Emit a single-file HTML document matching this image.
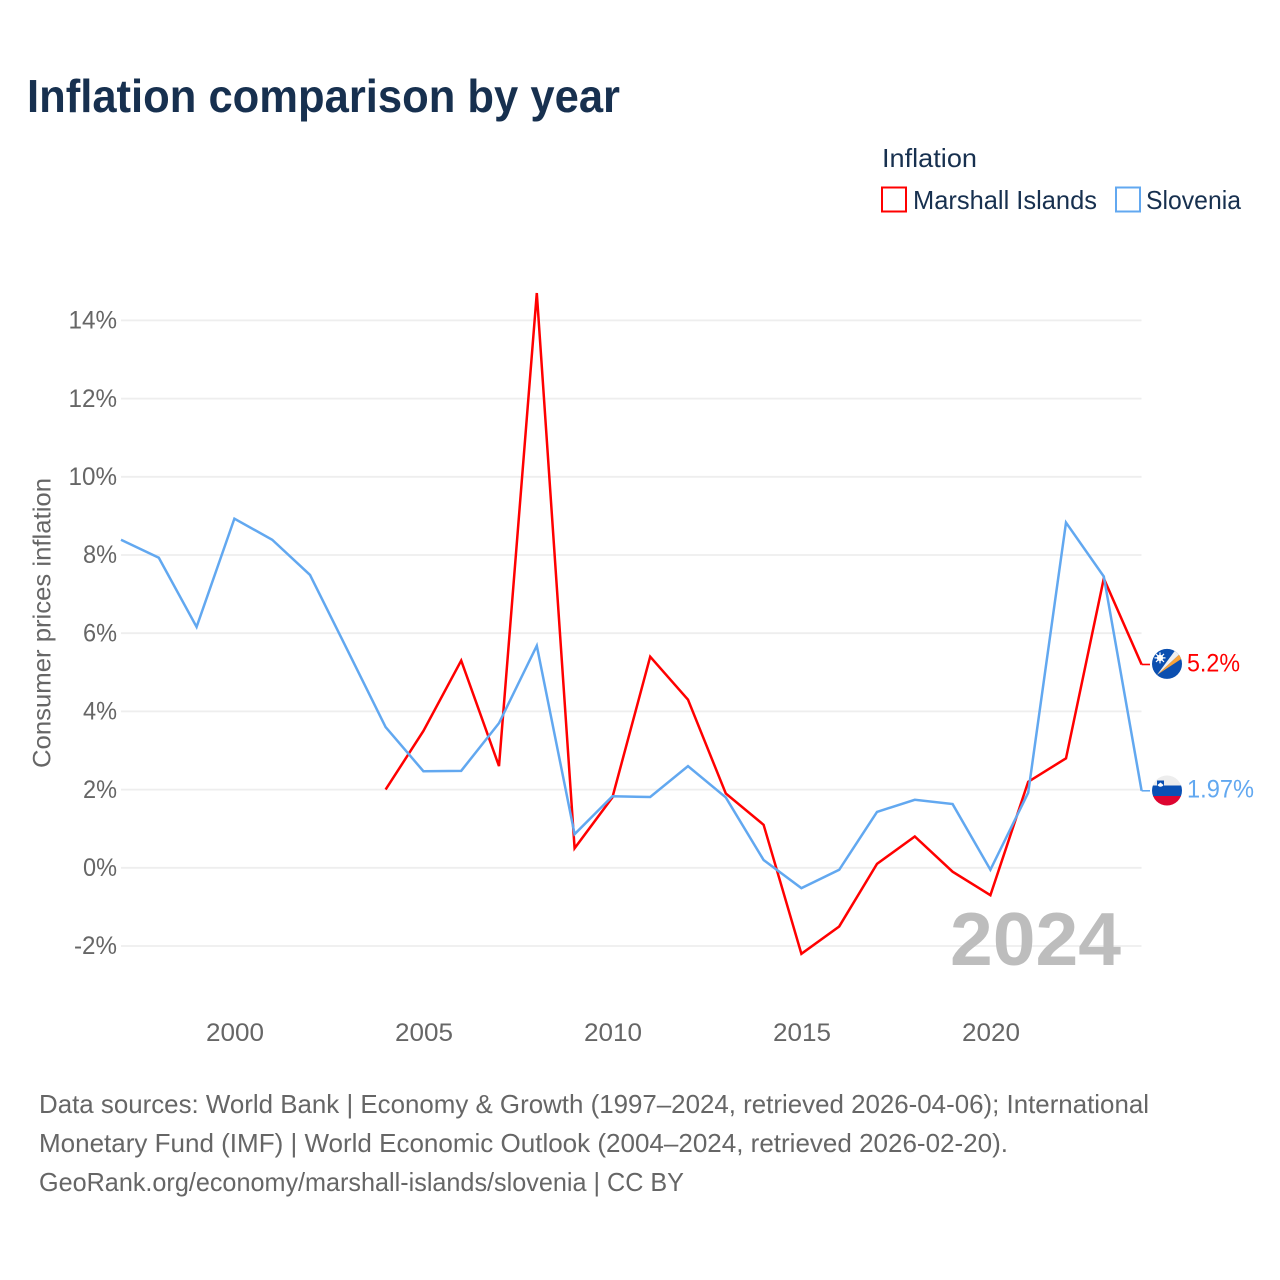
<!DOCTYPE html>
<html lang="en">
<head>
<meta charset="utf-8">
<title>Inflation comparison by year</title>
<style>
html,body{margin:0;padding:0;background:#fff;}
svg{display:block;font-family:"Liberation Sans",sans-serif;}
</style>
</head>
<body>
<svg id="chart" xmlns="http://www.w3.org/2000/svg" width="1280" height="1280" viewBox="0 0 1280 1280">
  <rect x="0" y="0" width="1280" height="1280" fill="#fff"/>
  <text x="27" y="112" font-size="46" font-weight="700" fill="#17304f" textLength="593" lengthAdjust="spacingAndGlyphs">Inflation comparison by year</text>

  <g>
    <text x="882" y="167" font-size="26" fill="#17304f" textLength="95" lengthAdjust="spacingAndGlyphs">Inflation</text>
    <rect x="882" y="187.500" width="24" height="24" fill="#fff" stroke="#ff0000" stroke-width="2"/>
    <text x="913" y="209" font-size="26" fill="#17304f" textLength="184" lengthAdjust="spacingAndGlyphs">Marshall Islands</text>
    <rect x="1116" y="187.500" width="24" height="24" fill="#fff" stroke="#62a8f0" stroke-width="2"/>
    <text x="1146" y="209" font-size="26" fill="#17304f" textLength="95" lengthAdjust="spacingAndGlyphs">Slovenia</text>
  </g>

  <text transform="translate(50.500 768) rotate(-90)" x="0" y="0" font-size="25" fill="#666" textLength="290" lengthAdjust="spacingAndGlyphs">Consumer prices inflation</text>

  <g id="grid"></g>
  <g id="y-ticks"></g>
  <g id="x-ticks"></g>

  <text x="950" y="965" font-size="75" font-weight="700" fill="#bdbdbd" textLength="171" lengthAdjust="spacingAndGlyphs">2024</text>

  <g id="series"></g>

  <g id="flag-marshall">
    <clipPath id="clip-mh"><circle cx="0" cy="0" r="15"/></clipPath>
    <g clip-path="url(#clip-mh)">
      <rect x="-16" y="-16" width="32" height="32" fill="#0b4fb0"/>
      <polygon points="-10,11 16,-13 16,-6" fill="#f7a238"/>
      <polygon points="-10,11 16,-13 10,-16" fill="#f0f0f0"/>
      <circle cx="-7" cy="-6" r="3.200" fill="#fff"/>
      <path d="M-7 -11.500V-0.500M-12.500 -6H-1.500M-11 -10L-3 -2M-3 -10L-11 -2" stroke="#fff" stroke-width="1.200"/>
    </g>
  </g>
  <g id="flag-slovenia">
    <clipPath id="clip-si"><circle cx="0" cy="0" r="15"/></clipPath>
    <g clip-path="url(#clip-si)">
      <rect x="-16" y="-16" width="32" height="11" fill="#ededed"/>
      <rect x="-16" y="-5" width="32" height="11" fill="#0a50b4"/>
      <rect x="-16" y="5.500" width="32" height="11" fill="#dd0530"/>
      <path d="M-10 -10H-3V-5A3.500 3.500 0 0 1 -10 -5Z" fill="#0a50b4"/>
      <path d="M-9.500 -5.500L-6.500 -8L-3.500 -5.500A3.500 3.500 0 0 1 -9.500 -5.500Z" fill="#fff"/>
    </g>
  </g>

  <g>
    <text x="39" y="1113" font-size="26" fill="#666" textLength="1110" lengthAdjust="spacingAndGlyphs">Data sources: World Bank | Economy &amp; Growth (1997–2024, retrieved 2026-04-06); International</text>
    <text x="39" y="1152" font-size="26" fill="#666" textLength="969" lengthAdjust="spacingAndGlyphs">Monetary Fund (IMF) | World Economic Outlook (2004–2024, retrieved 2026-02-20).</text>
    <text x="39" y="1191" font-size="26" fill="#666" textLength="645" lengthAdjust="spacingAndGlyphs">GeoRank.org/economy/marshall-islands/slovenia | CC BY</text>
  </g>
</svg>
<script>
var NS = 'http://www.w3.org/2000/svg';

var years = [1997,1998,1999,2000,2001,2002,2003,2004,2005,2006,2007,2008,2009,2010,2011,2012,2013,2014,2015,2016,2017,2018,2019,2020,2021,2022,2023,2024];
var sloveniaValues = [8.39,7.93,6.16,8.93,8.39,7.49,5.55,3.60,2.47,2.48,3.70,5.68,0.86,1.83,1.81,2.60,1.80,0.20,-0.52,-0.05,1.43,1.74,1.63,-0.05,1.92,8.83,7.45,1.97];
var marshallValues = [null,null,null,null,null,null,null,2.0,3.5,5.3,2.6,14.7,0.5,1.8,5.4,4.3,1.9,1.1,-2.2,-1.5,0.1,0.8,-0.1,-0.7,2.2,2.8,7.4,5.2];
var yTickValues = [-2,0,2,4,6,8,10,12,14];
var xTickYears = [2000,2005,2010,2015,2020];
var marshallEndLabel = '5.2%';
var sloveniaEndLabel = '1.97%';

function xScale(year){ return 121 + (year - 1997) * 37.8; }
function yScale(v){ return 867.8 - v * 39.1; }
function setAll(el, attrs){ for (var k in attrs) el.setAttribute(k, attrs[k]); return el; }
function labelWidth(s){
  var w = 0;
  for (var i = 0; i < s.length; i++) {
    var c = s.charAt(i);
    w += c === '%' ? 19.5 : c === '-' ? 9 : c === '.' ? 6.5 : 14.5;
  }
  return w;
}

var grid = document.getElementById('grid');
var yTicks = document.getElementById('y-ticks');
yTickValues.forEach(function(v){
  var line = document.createElementNS(NS, 'line');
  
  
  setAll(line, {x1: 121, x2: 1141.5, y1: yScale(v), y2: yScale(v), stroke: '#eeeeee', 'stroke-width': 1.8});
  grid.appendChild(line);
  var t = document.createElementNS(NS, 'text');
  
  
  var s = v + '%';
  var w = labelWidth(s);
  setAll(t, {x: 117 - w, y: yScale(v) + 8.2, 'font-size': 25, fill: '#666', textLength: w, lengthAdjust: 'spacingAndGlyphs'});
  t.textContent = s;
  yTicks.appendChild(t);
});

var xTicks = document.getElementById('x-ticks');
xTickYears.forEach(function(y){
  var t = document.createElementNS(NS, 'text');
  
  
  var s = String(y);
  var w = labelWidth(s);
  setAll(t, {x: xScale(y) - w / 2 + 0.6, y: 1041, 'font-size': 25, fill: '#666', textLength: w, lengthAdjust: 'spacingAndGlyphs'});
  t.textContent = s;
  xTicks.appendChild(t);
});

function pathFor(values){
  var d = '';
  values.forEach(function(v, i){
    if (v === null) return;
    d += (d ? 'L' : 'M') + xScale(years[i]).toFixed(2) + ' ' + yScale(v).toFixed(2);
  });
  return d;
}
function endY(values){ return yScale(values[values.length - 1]); }

var series = document.getElementById('series');

var redLine = document.createElementNS(NS, 'path');


setAll(redLine, {d: pathFor(marshallValues), fill: 'none', stroke: '#ff0000', 'stroke-width': 2.5, 'stroke-linejoin': 'miter'});
series.appendChild(redLine);

var blueLine = document.createElementNS(NS, 'path');


setAll(blueLine, {d: pathFor(sloveniaValues), fill: 'none', stroke: '#62a8f0', 'stroke-width': 2.5, 'stroke-linejoin': 'miter'});
series.appendChild(blueLine);

var redLead = document.createElementNS(NS, 'line');


setAll(redLead, {x1: xScale(2024), x2: 1150, y1: endY(marshallValues), y2: endY(marshallValues), stroke: '#ff0000', 'stroke-width': 1.6});
series.appendChild(redLead);

var blueLead = document.createElementNS(NS, 'line');


setAll(blueLead, {x1: xScale(2024), x2: 1150, y1: endY(sloveniaValues), y2: endY(sloveniaValues), stroke: '#62a8f0', 'stroke-width': 1.6});
series.appendChild(blueLead);

var redEnd = document.createElementNS(NS, 'text');


setAll(redEnd, {x: 1187, y: endY(marshallValues) + 6.8, 'font-size': 25, fill: '#ff0000', textLength: 53, lengthAdjust: 'spacingAndGlyphs'});
redEnd.textContent = marshallEndLabel;
series.appendChild(redEnd);

var blueEnd = document.createElementNS(NS, 'text');


setAll(blueEnd, {x: 1187, y: endY(sloveniaValues) + 6.8, 'font-size': 25, fill: '#62a8f0', textLength: 67, lengthAdjust: 'spacingAndGlyphs'});
blueEnd.textContent = sloveniaEndLabel;
series.appendChild(blueEnd);

document.getElementById('flag-marshall').setAttribute('transform', 'translate(1167 ' + (endY(marshallValues) - 0.6).toFixed(1) + ')');
document.getElementById('flag-slovenia').setAttribute('transform', 'translate(1167 ' + (endY(sloveniaValues) - 0.3).toFixed(1) + ')');
</script>
</body>
</html>
